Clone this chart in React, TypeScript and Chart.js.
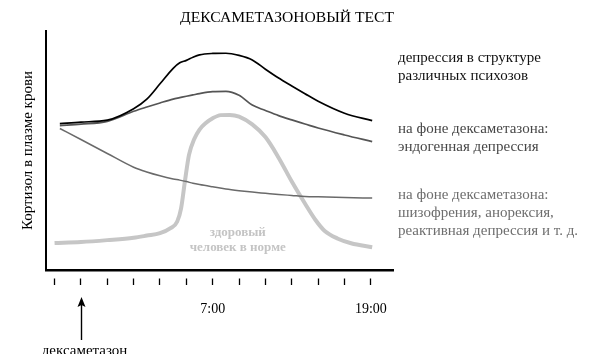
import { useEffect, useRef } from "react";
import { Chart, registerables } from "chart.js";

Chart.register(...registerables);

const chartTitle = "ДЕКСАМЕТАЗОНОВЫЙ ТЕСТ";
const yAxisTitle = "Кортизол в плазме крови";

// x axis: hours since 19:00 of the previous day (one tick every 2 hours)
const tickHours = [0, 2, 4, 6, 8, 10, 12, 14, 16, 18, 20, 22, 24];
const tickLabels = ["", "", "", "", "", "", "7:00", "", "", "", "", "", "19:00"];
const dexHour = 2;
const dexLabel = "дексаметазон";

const hours = [0.4, 2, 4, 6, 7, 8, 9, 9.5, 10, 10.5, 11, 12, 13, 14, 15, 16, 17, 18, 19, 20, 22, 24.1];
const psychosis = [61.25, 61.9, 62.7, 67.5, 71.5, 77.9, 84.4, 86.7, 87.7, 89, 90, 90.6, 90.7, 89.8, 87.9, 84, 80.3, 77, 73.75, 70.6, 65.6, 62.5];
const endogenous = [60.4, 61, 62.2, 66.4, 68.2, 69.9, 71.5, 72.1, 72.7, 73.25, 73.8, 74.6, 74.75, 73.1, 69, 66.75, 64.6, 62.8, 61.1, 59.4, 56.5, 53.7];
const schizo = [59.2, 54.6, 48.75, 43, 41, 39.4, 38.1, 37.6, 37, 36.3, 35.75, 34.8, 33.9, 33.2, 32.6, 32.1, 31.6, 31.2, 30.8, 30.6, 30.3, 30.1];

const healthyHours = [0, 2, 4, 6, 7, 8, 8.8, 9.3, 9.6, 9.9, 10.2, 10.6, 11, 11.5, 12, 12.6, 13.3, 14, 15, 16, 17, 18, 19, 19.8, 20.5, 21.5, 22.5, 24.1];
const healthy = [11.25, 11.7, 12.5, 13.5, 14.4, 15.4, 17.5, 20.2, 25.8, 37.5, 48.2, 54.8, 58.75, 61.6, 63.5, 64.8, 64.9, 64.2, 60.9, 55.6, 47, 37, 27.8, 20.9, 16.3, 13.1, 11.2, 9.5];
const healthyLabel = ["здоровый", "человек в норме"];

// right-hand notes, placed at cortisol levels on a secondary axis
const noteValues = [23.75, 55, 85];
const noteLines = [
  ["на фоне дексаметазона:", "шизофрения, анорексия,", "реактивная депрессия и т. д."],
  ["на фоне дексаметазона:", "эндогенная депрессия"],
  ["депрессия в структуре", "различных психозов"],
];
const noteColors = ["#6e6e6e", "#474747", "#111111"];

const serif = "'Liberation Serif', 'Times New Roman', serif";

const toPoints = (xs: number[], ys: number[]) => xs.map((x, i) => ({ x, y: ys[i] }));

const extrasPlugin = {
  id: "extras",
  afterDatasetsDraw(chart: any) {
    const { ctx, scales } = chart;
    const x = scales.x.getPixelForValue(13.9);
    const y = scales.y.getPixelForValue(12.7);
    ctx.save();
    ctx.fillStyle = "#c4c4c4";
    ctx.font = `bold 13px ${serif}`;
    ctx.textAlign = "center";
    ctx.textBaseline = "middle";
    ctx.fillText(healthyLabel[0], x, y - 7.5);
    ctx.fillText(healthyLabel[1], x, y + 7.5);
    ctx.restore();
  },
  afterDraw(chart: any) {
    const { ctx, scales } = chart;
    const ax = Math.round(scales.x.getPixelForValue(dexHour)) + 0.5;
    const tip = 289;
    const bottom = 332;
    ctx.save();
    ctx.strokeStyle = "#000";
    ctx.fillStyle = "#000";
    ctx.lineWidth = 1.4;
    ctx.beginPath();
    ctx.moveTo(ax, tip + 6);
    ctx.lineTo(ax, bottom);
    ctx.stroke();
    ctx.beginPath();
    ctx.moveTo(ax, tip);
    ctx.lineTo(ax + 4, tip + 10);
    ctx.lineTo(ax, tip + 8);
    ctx.lineTo(ax - 4, tip + 10);
    ctx.closePath();
    ctx.fill();
    ctx.font = `15px ${serif}`;
    ctx.textAlign = "center";
    ctx.textBaseline = "middle";
    ctx.fillText(dexLabel, ax + 3, 343);
    ctx.restore();
  },
};

export default function App() {
  const ref = useRef<HTMLCanvasElement | null>(null);

  useEffect(() => {
    if (!ref.current) return;
    const chart = new Chart(ref.current, {
      type: "line",
      data: {
        datasets: [
          {
            label: "psychosis",
            data: toPoints(hours, psychosis),
            borderColor: "#000000",
            borderWidth: 1.7,
            pointRadius: 0,
            cubicInterpolationMode: "monotone",
            fill: false,
          },
          {
            label: "endogenous",
            data: toPoints(hours, endogenous),
            borderColor: "#555555",
            borderWidth: 1.7,
            pointRadius: 0,
            cubicInterpolationMode: "monotone",
            fill: false,
          },
          {
            label: "schizo",
            data: toPoints(hours, schizo),
            borderColor: "#6a6a6a",
            borderWidth: 1.5,
            pointRadius: 0,
            cubicInterpolationMode: "monotone",
            fill: false,
          },
          {
            label: "healthy",
            data: toPoints(healthyHours, healthy),
            borderColor: "#c6c6c6",
            borderWidth: 4,
            pointRadius: 0,
            cubicInterpolationMode: "monotone",
            fill: false,
          },
        ],
      },
      options: {
        animation: false,
        responsive: true,
        maintainAspectRatio: false,
        layout: { padding: 0 },
        plugins: {
          legend: { display: false },
          tooltip: { enabled: false },
          title: {
            display: true,
            text: chartTitle,
            color: "#000",
            font: { family: serif, size: 15.6, weight: "normal", lineHeight: 1 },
            padding: { top: 1.5, bottom: 5.5 },
          },
        },
        scales: {
          x: {
            type: "linear",
            min: -0.65,
            max: 25.68,
            afterBuildTicks: (s: any) => {
              s.ticks = tickHours.map((v) => ({ value: v }));
            },
            afterFit: (s: any) => {
              s.height = 92;
            },
            border: { display: true, color: "#000", width: 2.5 },
            grid: {
              display: true,
              drawOnChartArea: false,
              drawTicks: true,
              tickLength: 15,
              tickColor: "#000",
              tickWidth: 1.3,
              tickBorderDash: [7, 7],
              tickBorderDashOffset: 7,
            },
            ticks: {
              autoSkip: false,
              maxRotation: 0,
              padding: 16,
              color: "#000",
              font: { family: serif, size: 14 },
              callback: (_v: any, i: number) => tickLabels[i],
            },
          },
          y: {
            type: "linear",
            position: "left",
            min: 0,
            max: 100,
            afterFit: (s: any) => {
              s.width = 64;
            },
            border: { display: true, color: "#000", width: 2 },
            grid: { display: false },
            ticks: { display: false },
            title: {
              display: true,
              text: yAxisTitle,
              color: "#000",
              font: { family: serif, size: 15, lineHeight: 1.2 },
              padding: { top: 37, bottom: 0 },
            },
          },
          y2: {
            type: "linear",
            position: "right",
            min: 0,
            max: 100,
            afterBuildTicks: (s: any) => {
              s.ticks = noteValues.map((v) => ({ value: v }));
            },
            afterFit: (s: any) => {
              s.width = 199;
            },
            border: { display: false },
            grid: { display: false, drawTicks: false, tickLength: 0 },
            ticks: {
              autoSkip: false,
              padding: 5,
              font: { family: serif, size: 15, lineHeight: 1.2 },
              color: (c: any) => noteColors[c.index] ?? "#000",
              callback: (_v: any, i: number) => noteLines[i],
            },
          },
        },
      },
      plugins: [extrasPlugin],
    });
    return () => chart.destroy();
  }, []);

  return (
    <div style={{ width: 610, height: 354, marginLeft: -26, marginBottom: -8, position: "relative" }}>
      <canvas ref={ref} />
    </div>
  );
}
